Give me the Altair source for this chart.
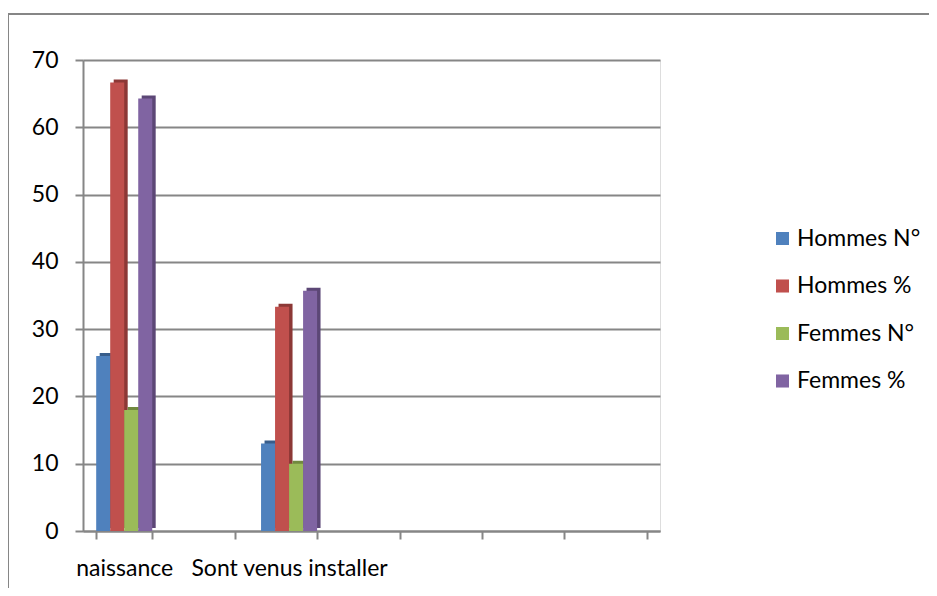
import altair as alt
import pandas as pd

categories = ["naissance", " ", "Sont venus installer", "  ", "   ", "    ", "     "]
series = ["Hommes N°", "Hommes %", "Femmes N°", "Femmes %"]
colors = ["#4F81BD", "#C0504D", "#9BBB59", "#8064A2"]
side_colors = ["#385D8A", "#8C3836", "#71893F", "#5C4776"]

data_categories = ["naissance", "Sont venus installer"]
hommes_n = [26, 13]
hommes_pct = [66.67, 33.33]
femmes_n = [18, 10]
femmes_pct = [64.29, 35.71]

rows = []
for i, cat in enumerate(data_categories):
    for s, vals in zip(series, [hommes_n, hommes_pct, femmes_n, femmes_pct]):
        rows.append({"cat": cat, "serie": s, "value": vals[i]})
df = pd.DataFrame(rows)

FONT = "Lato"
GRAY = "#868686"
FS = 23

W, H = 577, 471

x_enc = alt.X("cat:N", sort=categories,
              scale=alt.Scale(domain=categories, paddingInner=0.32, paddingOuter=0.16),
              axis=alt.Axis(title=None, labelAngle=0, labelFontSize=FS, labelFont=FONT,
                            labelColor="#000000", labelOverlap=False, labelLimit=0,
                            labelPadding=18, tickBand="extent", tickSize=8,
                            tickColor=GRAY, tickWidth=2, domainColor=GRAY, domainWidth=2,
                            grid=False))
y_enc = alt.Y("value:Q", scale=alt.Scale(domain=[0, 70]),
              axis=alt.Axis(title=None, values=list(range(0, 71, 10)), labelFontSize=FS,
                            labelFont=FONT, labelColor="#000000", labelPadding=17,
                            tickSize=8, tickColor=GRAY, tickWidth=2,
                            domainColor=GRAY, domainWidth=2,
                            grid=True, gridColor=GRAY, gridWidth=2))

side = alt.Chart(df).mark_bar(stroke=None, yOffset=-3).encode(
    x=x_enc,
    xOffset=alt.XOffset("serie:N", sort=series,
                        scale=alt.Scale(domain=series, range=[3.5, 59.5],
                                        paddingInner=0, paddingOuter=0)),
    y=y_enc,
    color=alt.Color("serie:N", sort=series,
                    scale=alt.Scale(domain=series, range=side_colors), legend=None),
)

bars = alt.Chart(df).mark_bar(stroke=None).encode(
    x=x_enc,
    xOffset=alt.XOffset("serie:N", sort=series,
                        scale=alt.Scale(domain=series, paddingInner=0, paddingOuter=0)),
    y=y_enc,
    fill=alt.Fill("serie:N", sort=series,
                  scale=alt.Scale(domain=series, range=colors),
                  legend=alt.Legend(title=None, orient="none", legendX=688, legendY=167,
                                    symbolType="square", symbolSize=170,
                                    symbolStrokeWidth=0, labelFontSize=FS,
                                    labelFont=FONT, labelColor="#000000",
                                    rowPadding=23.5, labelOffset=3)),
)

frame_top = alt.Chart(df).mark_rule(color=GRAY, strokeWidth=1.5).encode(
    x=alt.value(-75), x2=alt.value(860), y=alt.value(-46))
frame_left = alt.Chart(df).mark_rule(color=GRAY, strokeWidth=1.5).encode(
    x=alt.value(-75), y=alt.value(-46), y2=alt.value(560))

chart = alt.layer(side, bars, frame_top, frame_left).resolve_scale(
    color="independent", fill="independent", xOffset="independent"
).properties(
    width=W, height=H,
    autosize=alt.AutoSizeParams(type="none"),
    padding={"left": 75, "top": 52, "right": 269, "bottom": 57},
).configure_view(stroke=None).configure(background="#ffffff")

chart.save("out.html", embed_options={"renderer": "svg", "actions": False})
